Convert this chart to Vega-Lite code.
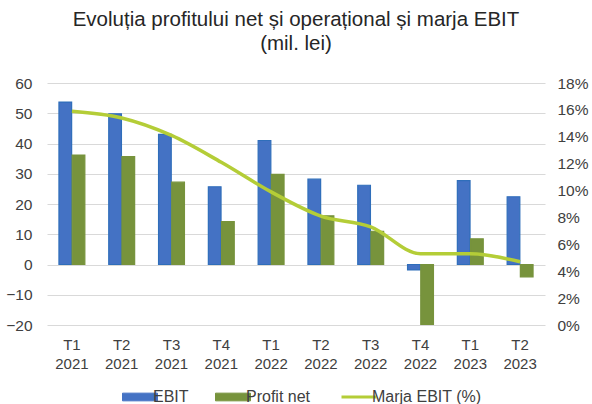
{
  "$schema": "https://vega.github.io/schema/vega-lite/v6.json",
  "width": 498,
  "height": 242,
  "autosize": {"type": "none"},
  "padding": {"left": 47, "top": 83, "right": 47, "bottom": 79},
  "background": "white",
  "title": {
    "text": ["Evoluția profitului net și operațional și marja EBIT", "(mil. lei)"],
    "font": "Liberation Sans",
    "fontSize": 20.5,
    "fontWeight": "normal",
    "color": "#262626",
    "lineHeight": 24,
    "anchor": "middle",
    "offset": 22
  },
  "config": {
    "view": {"stroke": null},
    "font": "Liberation Sans",
    "axis": {
      "labelFont": "Liberation Sans",
      "labelFontSize": 15.5,
      "labelColor": "#404040",
      "domain": false,
      "ticks": false,
      "title": null
    },
    "legend": {
      "labelFont": "Liberation Sans",
      "labelFontSize": 16,
      "labelColor": "#404040"
    }
  },
  "data": {
    "values": [
      {"perioada": "T1 2021", "EBIT": 53.7, "Profit net": 36.2, "marja": 0.159},
      {"perioada": "T2 2021", "EBIT": 49.8, "Profit net": 35.7, "marja": 0.154},
      {"perioada": "T3 2021", "EBIT": 43.0, "Profit net": 27.2, "marja": 0.141},
      {"perioada": "T4 2021", "EBIT": 25.7, "Profit net": 14.2, "marja": 0.121},
      {"perioada": "T1 2022", "EBIT": 41.0, "Profit net": 29.8, "marja": 0.099},
      {"perioada": "T2 2022", "EBIT": 28.2, "Profit net": 16.1, "marja": 0.081},
      {"perioada": "T3 2022", "EBIT": 26.2, "Profit net": 11.0, "marja": 0.073},
      {"perioada": "T4 2022", "EBIT": -1.8, "Profit net": -19.8, "marja": 0.053},
      {"perioada": "T1 2023", "EBIT": 27.7, "Profit net": 8.5, "marja": 0.053},
      {"perioada": "T2 2023", "EBIT": 22.4, "Profit net": -4.1, "marja": 0.047}
    ]
  },
  "encoding": {
    "x": {
      "field": "perioada",
      "type": "nominal",
      "sort": null,
      "scale": {"paddingInner": 0.48, "paddingOuter": 0.24},
      "axis": {
        "labelAngle": 0,
        "labelExpr": "split(datum.label, ' ')",
        "labelFontSize": 15,
        "labelLineHeight": 19,
        "labelPadding": 12,
        "grid": false
      }
    }
  },
  "layer": [
    {
      "transform": [{"fold": ["EBIT", "Profit net"], "as": ["serie", "valoare"]}],
      "mark": {"type": "bar", "strokeWidth": 1.2},
      "encoding": {
        "xOffset": {"field": "serie", "type": "nominal", "scale": {"paddingInner": 0.04}},
        "y": {
          "field": "valoare",
          "type": "quantitative",
          "scale": {"domain": [-20, 60], "nice": false},
          "axis": {
            "values": [-20, -10, 0, 10, 20, 30, 40, 50, 60],
            "grid": true,
            "gridColor": "#d9d9d9",
            "labelPadding": 15
          }
        },
        "color": {
          "field": "serie",
          "type": "nominal",
          "scale": {
            "domain": ["EBIT", "Profit net", "Marja EBIT (%)"],
            "range": ["#4472c4", "#77933c", "#b4cd37"]
          },
          "legend": {
            "orient": "none",
            "legendX": 85,
            "legendY": 306,
            "direction": "horizontal",
            "title": null,
            "symbolSize": 1225,
            "labelOffset": 5,
            "columnPadding": 24,
            "encode": {
              "symbols": {
                "update": {
                  "shape": {"signal": "datum.value === 'Marja EBIT (%)' ? 'M-1,0H1' : 'M-1,-0.22H1V0.22H-1Z'"},
                  "size": {"value": 1225},
                  "fill": {"signal": "datum.value === 'EBIT' ? '#4472c4' : datum.value === 'Profit net' ? '#77933c' : 'transparent'"},
                  "stroke": {"signal": "datum.value === 'EBIT' ? '#2f6eba' : datum.value === 'Profit net' ? '#77933c' : '#b4cd37'"},
                  "strokeWidth": {"signal": "datum.value === 'Marja EBIT (%)' ? 3 : 1"},
                  "opacity": {"value": 1}
                }
              }
            }
          }
        },
        "stroke": {
          "field": "serie",
          "type": "nominal",
          "scale": {"domain": ["EBIT", "Profit net"], "range": ["#2f6eba", "#77933c"]},
          "legend": null
        }
      }
    },
    {
      "mark": {"type": "line", "strokeWidth": 3.5, "interpolate": "monotone"},
      "encoding": {
        "y": {
          "field": "marja",
          "type": "quantitative",
          "scale": {"domain": [0, 0.18], "nice": false},
          "axis": {
            "orient": "right",
            "values": [0, 0.02, 0.04, 0.06, 0.08, 0.1, 0.12, 0.14, 0.16, 0.18],
            "format": ".0%",
            "grid": false,
            "labelPadding": 12
          }
        },
        "color": {"datum": "Marja EBIT (%)"}
      }
    }
  ],
  "resolve": {"scale": {"y": "independent", "stroke": "independent"}}
}
